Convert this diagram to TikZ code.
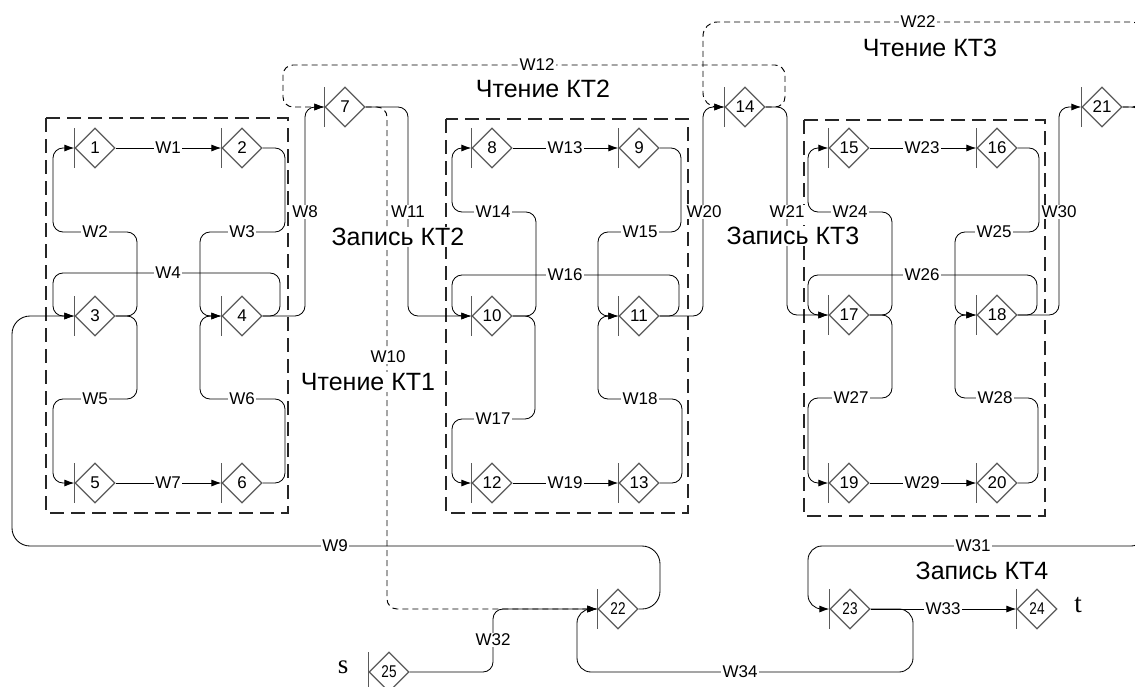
\documentclass[tikz,border=0pt]{standalone}
\usepackage{fontspec}
\setmainfont{Liberation Sans}
\newfontfamily\seriffnt{Liberation Serif}
\newfontfamily\narrowfnt[FakeStretch=0.8]{Liberation Sans}
\usetikzlibrary{shapes.geometric,arrows.meta}
\definecolor{diagray}{HTML}{5A5A5A}
\newcommand{\mkdia}[4]{%
  \node[dia] (#1) at (#2,#3) {#4};
  \draw[barline] ([yshift=20pt]#1.west) -- ([yshift=-20pt]#1.west);}
\begin{document}
\begin{tikzpicture}[x=1pt,y=-1pt,
  dia/.style={diamond,draw=diagray,line width=1.3pt,minimum size=40pt,inner sep=0pt,font=\fontsize{17}{17}\selectfont},
  barline/.style={draw=diagray,line width=1.5pt},
  conn/.style={line width=0.85pt,rounded corners=10pt,-{Latex[length=10pt,width=7pt]}},
  dconn/.style={conn,line width=0.95pt,dash pattern=on 6pt off 4pt},
  lab/.style={fill=white,inner sep=1.2pt,font=\fontsize{17}{17}\selectfont},
  big/.style={fill=white,inner sep=1pt,font=\fontsize{25}{25}\selectfont},
  stxt/.style={font=\seriffnt\fontsize{27}{27}\selectfont},
  boxline/.style={draw=black!85,line width=1.1pt,dash pattern=on 14pt off 7pt}]
\useasboundingbox (0,0) rectangle (1135,686);
% boxes
\draw[boxline] (46,118) rectangle (288,513);
\draw[boxline] (446,119) rectangle (688,513);
\draw[boxline] (804,120) rectangle (1045,516);
% nodes
\mkdia{n1}{95}{148}{1}
\mkdia{n2}{242}{148}{2}
\mkdia{n3}{95}{316}{3}
\mkdia{n4}{242}{316}{4}
\mkdia{n5}{95}{483}{5}
\mkdia{n6}{242}{483}{6}
\mkdia{n7}{345}{107}{7}
\mkdia{n8}{492}{148}{8}
\mkdia{n9}{639}{148}{9}
\mkdia{n10}{492}{316}{10}
\mkdia{n11}{639}{316}{11}
\mkdia{n12}{492}{483}{12}
\mkdia{n13}{639}{483}{13}
\mkdia{n14}{745}{107}{14}
\mkdia{n15}{849}{148}{15}
\mkdia{n16}{997}{148}{16}
\mkdia{n17}{849}{315}{17}
\mkdia{n18}{997}{315}{18}
\mkdia{n19}{849}{483}{19}
\mkdia{n20}{997}{483}{20}
\mkdia{n21}{1102}{107}{21}
\mkdia{n22}{618}{609}{\narrowfnt 22}
\mkdia{n23}{850}{609}{\narrowfnt 23}
\mkdia{n24}{1037}{609}{\narrowfnt 24}
\mkdia{n25}{389}{672}{\narrowfnt 25}
% group 1
\draw[conn] (n1.east) -- (n2.west);
\draw[conn] (n3.east) -| (137,232) -| (53,148) -- (n1.west);
\draw[conn] (n2.east) -| (285,232) -| (200,316) -- (n4.west);
\draw[conn] (n4.east) -| (280,273) -| (53,316) -- (n3.west);
\draw[conn] (n3.east) -| (137,399) -| (53,483) -- (n5.west);
\draw[conn] (n6.east) -| (285,399) -| (200,316) -- (n4.west);
\draw[conn] (n5.east) -- (n6.west);
\draw[conn] (n4.east) -| (305,107) -- (n7.west);
\draw[conn,rounded corners=18pt] (n22.east) -| (660,546) -| (12,316) -- (n3.west);
% dashed
\draw[dconn] (n7.east) -| (387,609) -- (n22.west);
\draw[dconn] (n14.east) -| (785,65) -| (283,107) -- (n7.west);
\draw[dconn,rounded corners=14pt] (n21.east) -| (1145,22) -| (703,107) -- (n14.west);
% group 2
\draw[conn] (n7.east) -| (408,316) -- (n10.west);
\draw[conn] (n8.east) -- (n9.west);
\draw[conn] (n10.east) -| (536,212) -| (452,148) -- (n8.west);
\draw[conn] (n9.east) -| (681,232) -| (598,316) -- (n11.west);
\draw[conn] (n11.east) -| (679,275) -| (452,316) -- (n10.west);
\draw[conn] (n10.east) -| (535,419) -| (452,483) -- (n12.west);
\draw[conn] (n13.east) -| (682,399) -| (598,316) -- (n11.west);
\draw[conn] (n12.east) -- (n13.west);
\draw[conn] (n11.east) -| (703,107) -- (n14.west);
\draw[conn] (n14.east) -| (787,315) -- (n17.west);
% group 3
\draw[conn] (n15.east) -- (n16.west);
\draw[conn] (n17.east) -| (892,212) -| (808,148) -- (n15.west);
\draw[conn] (n16.east) -| (1039,232) -| (955,315) -- (n18.west);
\draw[conn] (n18.east) -| (1037,275) -| (808,315) -- (n17.west);
\draw[conn] (n17.east) -| (892,398) -| (808,483) -- (n19.west);
\draw[conn] (n20.east) -| (1038,398) -| (955,315) -- (n18.west);
\draw[conn] (n19.east) -- (n20.west);
\draw[conn] (n18.east) -| (1059,107) -- (n21.west);
\draw[conn,rounded corners=14pt] (n21.east) -| (1145,546) -| (808,609) -- (n23.west);
% bottom
\draw[conn] (n25.east) -| (493,609) -- (n22.west);
\draw[conn] (n23.east) -- (n24.west);
\draw[conn,rounded corners=14pt] (n23.east) -| (913,672) -| (577,609) -- (n22.west);
% edge labels
\node[lab] (w1) at (168,148) {W1};
\node[lab] (w2) at (95,232) {W2};
\node[lab] (w3) at (242,232) {W3};
\node[lab] (w4) at (168,273) {W4};
\node[lab] (w5) at (95,399) {W5};
\node[lab] (w6) at (242,399) {W6};
\node[lab] (w7) at (168,483) {W7};
\node[lab] (w8) at (305,212) {W8};
\node[lab] (w9) at (335,546) {W9};
\node[lab] (w10) at (388,357) {W10};
\node[lab] (w11) at (408,212) {W11};
\node[lab] (w12) at (537,65) {W12};
\node[lab] (w13) at (565,148) {W13};
\node[lab] (w14) at (493,212) {W14};
\node[lab] (w15) at (640,232) {W15};
\node[lab] (w16) at (565,275) {W16};
\node[lab] (w17) at (493,419) {W17};
\node[lab] (w18) at (640,399) {W18};
\node[lab] (w19) at (565,483) {W19};
\node[lab] (w20) at (704,212) {W20};
\node[lab] (w21) at (787,212) {W21};
\node[lab] (w22) at (918,22) {W22};
\node[lab] (w23) at (922,148) {W23};
\node[lab] (w24) at (850,212) {W24};
\node[lab] (w25) at (994,232) {W25};
\node[lab] (w26) at (922,275) {W26};
\node[lab] (w27) at (851,398) {W27};
\node[lab] (w28) at (995,398) {W28};
\node[lab] (w29) at (922,483) {W29};
\node[lab] (w30) at (1059,212) {W30};
\node[lab] (w31) at (973,546) {W31};
\node[lab] (w32) at (493,640) {W32};
\node[lab] (w33) at (943,609) {W33};
\node[lab] (w34) at (740,672) {W34};
% region titles
\node[big] (t1) at (368,382) {Чтение КТ1};
\node[big] (t2) at (543,89) {Чтение КТ2};
\node[big] (t3) at (930,48) {Чтение КТ3};
\node[big] (t4) at (398,237) {Запись КТ2};
\node[big] (t5) at (793,236) {Запись КТ3};
\node[big] (t6) at (982,571) {Запись КТ4};
\node[stxt] (s) at (343,667) {s};
\node[stxt] (t) at (1078,605) {t};
\end{tikzpicture}
\end{document}
